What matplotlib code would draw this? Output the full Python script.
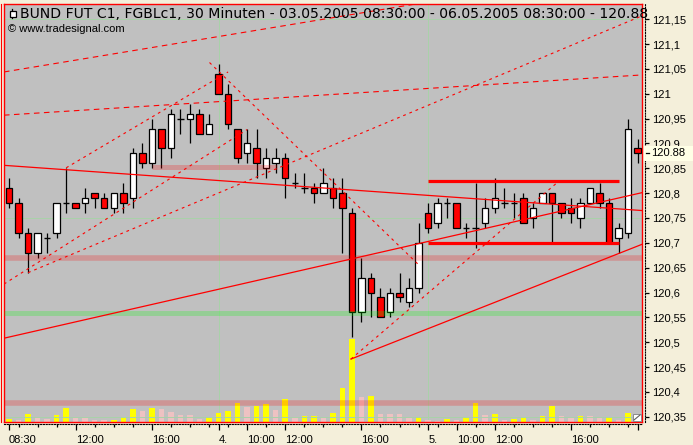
import matplotlib
matplotlib.use('Agg')
import matplotlib.pyplot as plt
import matplotlib.transforms as mtransforms
from matplotlib.patches import Rectangle
from matplotlib.lines import Line2D
from matplotlib.ticker import FixedLocator, FuncFormatter, NullFormatter

plt.rcParams['font.family'] = ['Liberation Sans', 'DejaVu Sans']

# ---------------- data (30 min bars, 03.05.2005 08:30 - 06.05.2005 08:30) ----------------
opens = [120.81, 120.78, 120.72, 120.68, 120.71, 120.72, 120.78, 120.78, 120.78, 120.80,
         120.79, 120.77, 120.80, 120.79, 120.88, 120.86, 120.93, 120.89, 120.95, 120.95,
         120.96, 120.92, 121.04, 121.00, 120.93, 120.88, 120.89, 120.85, 120.86, 120.87,
         120.82, 120.81, 120.81, 120.80, 120.81, 120.80, 120.76, 120.56, 120.63, 120.59,
         120.56, 120.60, 120.58, 120.61, 120.76, 120.74, 120.78, 120.78, 120.73, 120.73,
         120.74, 120.77, 120.78, 120.78, 120.79, 120.75, 120.78, 120.80, 120.78, 120.77,
         120.75, 120.78, 120.80, 120.78, 120.71, 120.72, 120.89]
highs = [120.83, 120.79, 120.73, 120.72, 120.72, 120.78, 120.85, 120.78, 120.81, 120.80,
         120.80, 120.80, 120.82, 120.89, 120.90, 120.95, 120.93, 120.97, 120.97, 120.98,
         120.97, 120.96, 121.06, 121.02, 120.93, 120.93, 120.93, 120.89, 120.89, 120.88,
         120.84, 120.84, 120.82, 120.85, 120.83, 120.83, 120.77, 120.67, 120.64, 120.61,
         120.61, 120.64, 120.63, 120.74, 120.78, 120.79, 120.79, 120.78, 120.74, 120.82,
         120.79, 120.83, 120.81, 120.80, 120.80, 120.78, 120.80, 120.80, 120.78, 120.79,
         120.79, 120.81, 120.82, 120.79, 120.74, 120.95, 120.91]
lows = [120.77, 120.71, 120.64, 120.67, 120.68, 120.71, 120.76, 120.77, 120.76, 120.77,
        120.77, 120.76, 120.76, 120.77, 120.85, 120.85, 120.85, 120.87, 120.92, 120.90,
        120.92, 120.92, 121.00, 120.93, 120.86, 120.86, 120.83, 120.83, 120.84, 120.79,
        120.81, 120.80, 120.78, 120.80, 120.77, 120.68, 120.51, 120.54, 120.55, 120.55,
        120.55, 120.58, 120.57, 120.60, 120.72, 120.73, 120.75, 120.73, 120.71, 120.69,
        120.73, 120.76, 120.77, 120.75, 120.74, 120.73, 120.78, 120.70, 120.75, 120.74,
        120.73, 120.78, 120.77, 120.70, 120.68, 120.71, 120.86]
closes = [120.78, 120.72, 120.68, 120.72, 120.71, 120.78, 120.78, 120.77, 120.79, 120.79,
          120.77, 120.80, 120.78, 120.88, 120.86, 120.93, 120.89, 120.96, 120.95, 120.96,
          120.92, 120.94, 121.00, 120.94, 120.87, 120.90, 120.86, 120.87, 120.87, 120.83,
          120.82, 120.81, 120.80, 120.82, 120.79, 120.77, 120.56, 120.63, 120.60, 120.55,
          120.60, 120.59, 120.61, 120.70, 120.73, 120.78, 120.78, 120.73, 120.73, 120.73,
          120.77, 120.79, 120.78, 120.78, 120.74, 120.77, 120.80, 120.78, 120.76, 120.76,
          120.78, 120.81, 120.78, 120.70, 120.73, 120.93, 120.88]
volumes = [680, 420, 2000, 1250, 750, 1750, 3500, 1000, 1000, 500,
           420, 500, 1250, 3250, 2750, 3500, 3250, 2500, 1750, 1750,
           750, 1000, 2250, 2750, 4750, 3750, 4000, 4500, 3000, 5750,
           1250, 1380, 1500, 1250, 2250, 8500, 20750, 6250, 6500, 2000,
           2000, 2000, 1000, 1250, 500, 250, 750, 500, 1000, 4750,
           1750, 1880, 500, 750, 1000, 500, 1500, 4000, 1500, 1000,
           1500, 1500, 1000, 1130, 500, 2250, 750]

xtick_pos = [0, 7, 15, 22, 25, 29, 37, 44, 47, 51, 59, 66]
xtick_labels = ['08:30', '12:00', '16:00', '4.', '10:00', '12:00', '16:00', '5.',
                '10:00', '12:00', '16:00', '']
xminor_pos = [1, 3, 5, 9, 11, 13, 17, 19, 21, 23, 27, 31, 33, 35, 39, 41, 43,
              45, 49, 53, 55, 57, 61, 63, 65]
ytick_vals = [120.35, 120.40, 120.45, 120.50, 120.55, 120.60, 120.65, 120.70, 120.75,
              120.80, 120.85, 120.90, 120.95, 121.00, 121.05, 121.10, 121.15]
day_breaks = [22, 44]
grid_prices = [120.35, 120.75, 121.15]

# drawing tools: (x0, price0, x1, price1)
solid_lines = [(-0.525, 120.856, 66.457, 120.765),
               (-0.525, 120.508, 66.457, 120.801),
               (35.9, 120.466, 66.457, 120.697)]
fine_dotted_lines = [(-0.525, 120.617, 25.0, 120.928),
                     (2.0, 120.640, 66.457, 121.157),
                     (6.0, 120.851, 23.0, 121.044),
                     (21.05, 121.063, 43.0, 120.656),
                     (35.9, 120.466, 57.6, 120.822)]
dashed_lines = [(-0.525, 121.044, 66.457, 121.256),
                (-0.525, 120.957, 66.457, 121.038)]
channel_lines = [(44, 64, 120.825), (44, 64, 120.700)]
pink_zones_full = [120.670, 120.377]
green_zones_full = [120.558]
pink_zones_part = [(15, 28.1, 120.853)]

title = 'BUND FUT C1, FGBLc1, 30 Minuten - 03.05.2005 08:30:00 - 06.05.2005 08:30:00 - 120.88'
credit = '\u00a9 www.tradesignal.com'

# ---------------- layout ----------------
W, H = 693, 445
BG = '#F4EFDA'
PLOT_BG = '#C0C0C0'
RED = '#FF0000'

fig = plt.figure(figsize=(W / 100, H / 100), dpi=100, facecolor=BG)
rect = [4 / W, 23 / H, 638 / W, 418 / H]
axv = fig.add_axes(rect)
ax = fig.add_axes(rect, sharex=axv)
ax.patch.set_visible(False)
axv.set_facecolor(PLOT_BG)
for s in axv.spines.values():
    s.set_visible(False)
axv.tick_params(left=False, bottom=False, labelleft=False, labelbottom=False)

XMIN, XMAX = -0.525, 66.457
YMIN, YMAX = 120.3393, 121.1808
ax.set_xlim(XMIN, XMAX)
ax.set_ylim(YMIN, YMAX)
axv.set_ylim(0, 104500)

for s in ax.spines.values():
    s.set_color(RED)
    s.set_linewidth(1.0)
ax.tick_params(left=False, bottom=False, right=False, top=False,
               labelleft=False, labelbottom=False)

# grid
for d in day_breaks:
    axv.axvline(d, color='#A9D2A9', lw=0.7, zorder=0.5)
for g in grid_prices:
    ax.axhline(g, color='#A9D2A9', lw=0.7, zorder=0.5)

# volume
idx = list(range(len(volumes)))
vcolors = []
for i, v in enumerate(volumes):
    if i == 0 or v > volumes[i - 1]:
        vcolors.append('#FFFF00')
    else:
        vcolors.append('#EEC2C2')
axv.bar(idx, volumes, width=0.58, color=vcolors, linewidth=0, zorder=1)

# candles
bw = 0.68
for i, (o, h, l, c) in enumerate(zip(opens, highs, lows, closes)):
    ax.vlines(i, l, h, color='black', lw=0.9, zorder=3)
    if abs(c - o) < 1e-9:
        ax.hlines(o, i - bw / 2, i + bw / 2, color='black', lw=1.0, zorder=3.2)
    else:
        ax.add_patch(Rectangle((i - bw / 2, min(o, c)), bw, abs(c - o),
                               facecolor=RED if c < o else 'white',
                               edgecolor='black', lw=0.9, zorder=3.1))

# zones (translucent, over candles)
for p in pink_zones_full:
    ax.axhline(p, color=RED, alpha=0.22, lw=4.0, zorder=4, solid_capstyle='butt')
for p in green_zones_full:
    ax.axhline(p, color='#00FF00', alpha=0.22, lw=3.6, zorder=4, solid_capstyle='butt')
for x0, x1, p in pink_zones_part:
    ax.hlines(p, x0, x1, color=RED, alpha=0.22, lw=3.6, zorder=4, capstyle='butt')

# lines
for x0, p0, x1, p1 in solid_lines:
    ax.plot([x0, x1], [p0, p1], color=RED, lw=0.9, zorder=5)
for x0, p0, x1, p1 in fine_dotted_lines:
    ax.plot([x0, x1], [p0, p1], color=RED, lw=0.8, zorder=5,
            linestyle=(0, (2.5, 3.5)))
for x0, p0, x1, p1 in dashed_lines:
    ax.plot([x0, x1], [p0, p1], color=RED, lw=0.8, zorder=5,
            linestyle=(0, (5, 4)))
for x0, x1, p in channel_lines:
    ax.hlines(p, x0, x1, color=RED, lw=2.3, zorder=5, capstyle='butt')

# right price axis (dotted)
def fmt_price(v, pos):
    s = f'{v:.2f}'.rstrip('0').rstrip('.')
    return s.replace('.', ',')

sec_y = ax.secondary_yaxis(1 + 3 / 638)
sec_y.yaxis.set_major_locator(FixedLocator(ytick_vals))
sec_y.yaxis.set_major_formatter(FuncFormatter(fmt_price))
sec_y.spines['right'].set_linestyle((0, (1, 1.5)))
sec_y.spines['right'].set_color('black')
sec_y.spines['right'].set_linewidth(0.8)
sec_y.tick_params(axis='y', length=3, width=0.9, pad=2, labelsize=8, colors='black')

# bottom time axis (dotted)
sec_x = ax.secondary_xaxis(-2 / 418)
sec_x.xaxis.set_major_locator(FixedLocator(xtick_pos))
sec_x.xaxis.set_major_formatter(FuncFormatter(lambda v, p: xtick_labels[xtick_pos.index(int(round(v)))]))
sec_x.xaxis.set_minor_locator(FixedLocator(xminor_pos))
sec_x.xaxis.set_minor_formatter(NullFormatter())
sec_x.spines['bottom'].set_linestyle((0, (1, 1.5)))
sec_x.spines['bottom'].set_color('black')
sec_x.spines['bottom'].set_linewidth(0.8)
sec_x.tick_params(axis='x', which='major', length=4, width=0.9, pad=4, labelsize=8)
sec_x.tick_params(axis='x', which='minor', length=2, width=0.9)
plt.setp(sec_x.xaxis.get_majorticklabels(), ha='left')

# last price marker box
yrange = YMAX - YMIN
half = 7.5 * yrange / 418
bt = mtransforms.blended_transform_factory(fig.transFigure, ax.transData)
last = closes[-1]
fig.add_artist(Rectangle((644 / W, last - half), (W - 644) / W, 2 * half,
                         transform=bt, facecolor='#FFFFE6', edgecolor='none', zorder=5))
fig.add_artist(Line2D([645.5 / W, 648.5 / W], [last, last], transform=bt,
                      color='black', lw=0.9, zorder=6))
fig.text(651 / W, last, f'{last:.2f}', transform=bt, fontsize=8, va='center',
         ha='left', zorder=7)

# outer red frame line on the left
fig.add_artist(Line2D([1 / W, 1 / W], [1 - 4 / H, 1 - 422 / H], transform=fig.transFigure,
                      color=RED, lw=0.8, zorder=6))

# title + icon
fig.add_artist(Line2D([12.5 / W, 12.5 / W], [1 - 9 / H, 1 - 18 / H],
                      transform=fig.transFigure, color='black', lw=0.9, zorder=8))
fig.add_artist(Rectangle((9.5 / W, 1 - 16.5 / H), 6 / W, 5 / H, transform=fig.transFigure,
                         facecolor='white', edgecolor='black', lw=0.9, zorder=9))
fig.text(20.5 / W, 1 - 13.5 / H, title, fontsize=10.1, family=['DejaVu Sans'],
         va='center', ha='left', zorder=8)
fig.text(8 / W, 1 - 28.5 / H, credit, fontsize=8, va='center', ha='left', zorder=8)

# small resize icon bottom right
fig.add_artist(Rectangle((633 / W, 1 - 421 / H), 8 / W, 7 / H, transform=fig.transFigure,
                         facecolor='white', edgecolor='#808080', lw=0.6, zorder=8))
fig.add_artist(Line2D([634 / W, 640 / W], [1 - 420 / H, 1 - 415 / H],
                      transform=fig.transFigure, color='#606060', lw=0.8, zorder=9))

fig.savefig('out.png', dpi=100, facecolor=BG)
